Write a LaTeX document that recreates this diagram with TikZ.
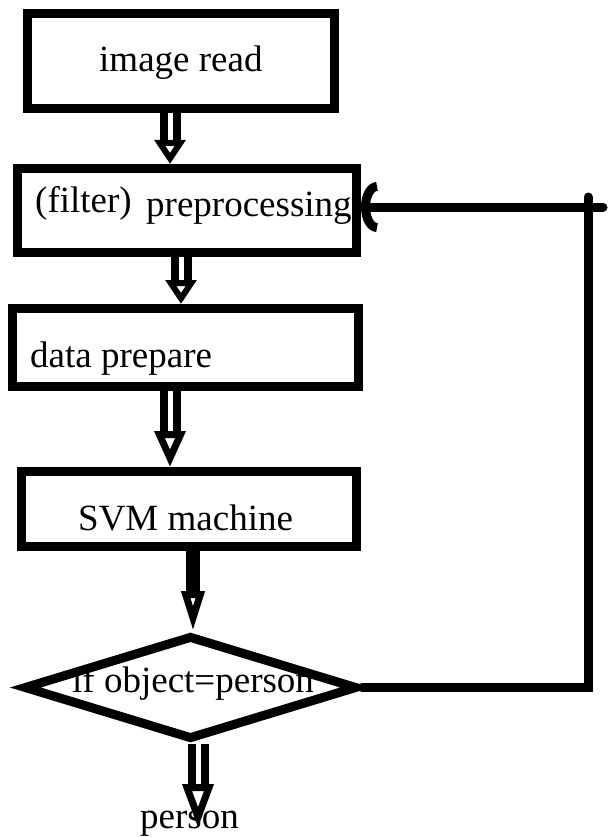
\documentclass[tikz,border=0pt]{standalone}
\usepackage{fontspec}
\setmainfont{Liberation Serif}
\usetikzlibrary{shapes.geometric, arrows.meta, positioning, calc}

\begin{document}
\begin{tikzpicture}[x=1pt, y=-1pt, font=\fontsize{37}{40}\selectfont,
    box/.style={draw, line width=9pt, inner sep=0pt},
    decision/.style={draw, diamond, line width=9pt, inner sep=0pt},
    lbl/.style={anchor=base west, inner sep=0pt},
    hollow/.style={draw, line width=8pt, double=white, double distance=5pt, -{Triangle[open, length=#1, width=30pt, line width=7pt]}},
    hollow/.default=24pt,
    solidflow/.style={draw, line width=14pt, -{Triangle[open, length=#1, width=22pt, line width=7pt]}},
    fback/.style={draw, line width=9pt, line cap=round}]
    \useasboundingbox (0,0) rectangle (608,837);
    % boxes
    \node[box, minimum width=307pt, minimum height=95pt] (read) at (181,61) {};
    \node[box, minimum width=339pt, minimum height=84pt] (prep) at (187,210.5) {};
    \node[box, minimum width=346pt, minimum height=78pt] (data) at (185.5,347.5) {};
    \node[box, minimum width=335pt, minimum height=75pt] (svm) at (189,509) {};
    \node[decision, minimum width=334pt, minimum height=104pt] (decide) at (190.5,687.5) {};
    % texts
    \node[lbl] (readtxt) at (99,72) {image read};
    \node[lbl] (filtertxt) at (35,212) {(filter)};
    \node[lbl] (preptxt) at (146,216) {preprocessing};
    \node[lbl] (datatxt) at (30,367) {data prepare};
    \node[lbl] (svmtxt) at (78,530) {SVM machine};
    \node[lbl] (decidetxt) at (72,692) {if object=person};
    \node[lbl] (person) at (140,828) {person};
    % flow
    \draw[hollow] ([xshift=-11pt]read.south) -- ([xshift=-11pt]read.south |- prep.north);
    \draw[hollow] ([xshift=-6pt]prep.south) -- ([xshift=-6pt]prep.south |- data.north);
    \draw[hollow=36pt] ([xshift=-15.5pt]data.south) -- ([xshift=-15.5pt]data.south |- svm.north);
    \draw[solidflow=40pt] ([xshift=4pt]svm.south) -- ([xshift=4pt]svm.south |- decide.north);
    \coordinate (personin) at (198,828);
    \draw[hollow=44pt] (decide.south -| personin) -- (personin);
    % back to preprocessing
    \coordinate (loopr) at (588,687.5);
    \coordinate (looptop) at (588,197);
    \coordinate (loopin) at (603,207);
    \draw[fback] (decide.east) -- (loopr) -- (looptop);
    \draw[fback, -{Arc Barb[length=16pt, width=50pt]}] (loopin) -- (loopin -| prep.east);
\end{tikzpicture}
\end{document}
